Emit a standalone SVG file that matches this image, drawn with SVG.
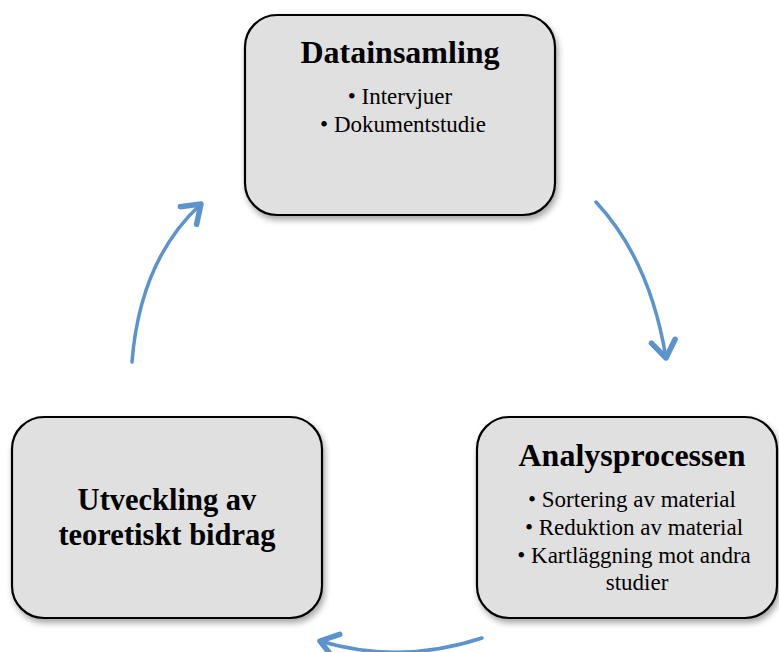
<svg xmlns="http://www.w3.org/2000/svg" width="779" height="652" viewBox="0 0 779 652">
<style>
.box{fill:#e0e0e0;stroke:#000;stroke-width:2.2}
.t{font-family:"Liberation Serif","Times New Roman",serif;fill:#000;text-anchor:middle}
.h{font-weight:bold;font-size:32px}
.h2{font-weight:bold;font-size:30.5px}
.b{font-size:23px}
.arc{fill:none;stroke:#5b93cc;stroke-width:3.5;stroke-linecap:round}
</style>
<defs>
<filter id="sh" x="-10%" y="-10%" width="125%" height="130%">
<feDropShadow dx="2" dy="4" stdDeviation="3" flood-color="#000" flood-opacity="0.35"/>
</filter>
<marker id="ah" markerUnits="userSpaceOnUse" markerWidth="40" markerHeight="40" viewBox="-30 -20 40 40" refX="0" refY="0" orient="auto">
<path d="M-17,-12 L0,0 L-17,12" fill="none" stroke="#5b93cc" stroke-width="5.5" stroke-linecap="round" stroke-linejoin="round"/>
</marker>
</defs>
<rect width="779" height="652" fill="#fff"/>
<g id="connectors">
<path class="arc" d="M596,202 Q650,260 666,358" marker-end="url(#ah)"/>
<path class="arc" d="M482,638 Q400,665 320,641" marker-end="url(#ah)"/>
<path class="arc" d="M132,362 Q140,260 201,204" marker-end="url(#ah)"/>
</g>
<g id="node-datainsamling">
<rect class="box" x="245" y="15" width="310" height="200" rx="32" filter="url(#sh)"/>
<text class="t h" x="400" y="63">Datainsamling</text>
<text class="t b" x="400" y="104">• Intervjuer</text>
<text class="t b" x="403" y="132">• Dokumentstudie</text>
</g>
<g id="node-analysprocessen">
<rect class="box" x="477" y="417" width="300" height="201" rx="32" filter="url(#sh)"/>
<text class="t h" x="632" y="466">Analysprocessen</text>
<text class="t b" x="632" y="507">• Sortering av material</text>
<text class="t b" x="634" y="535">• Reduktion av material</text>
<text class="t b" x="634" y="563">• Kartläggning mot andra</text>
<text class="t b" x="637" y="590">studier</text>
</g>
<g id="node-utveckling">
<rect class="box" x="12" y="417" width="310" height="201" rx="32" filter="url(#sh)"/>
<text class="t h2" x="167" y="510">Utveckling av</text>
<text class="t h2" x="167" y="545">teoretiskt bidrag</text>
</g>
</svg>
